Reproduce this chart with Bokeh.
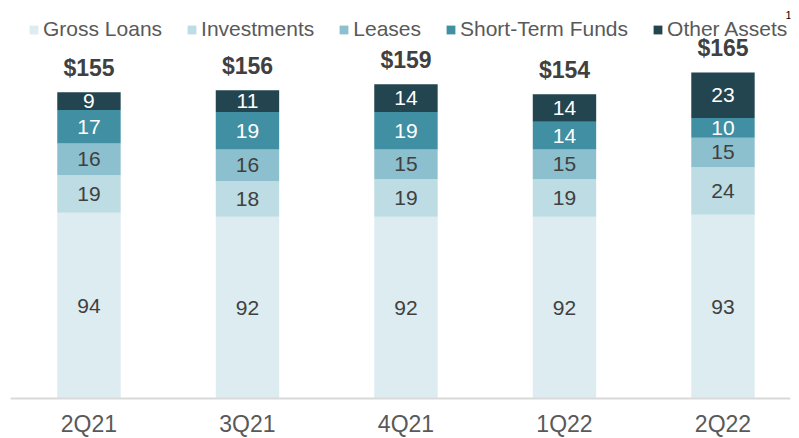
from bokeh.plotting import figure
from bokeh.models import ColumnDataSource, Legend, LegendItem, Label, Span
from bokeh.core.properties import value
from bokeh.embed import file_html
from bokeh.resources import INLINE

quarters = ["2Q21", "3Q21", "4Q21", "1Q22", "2Q22"]
gross_loans = [94, 92, 92, 92, 93]
investments = [19, 18, 19, 19, 24]
leases = [16, 16, 15, 15, 15]
short_term_funds = [17, 19, 19, 14, 10]
other_assets = [9, 11, 14, 14, 23]
totals = [155, 156, 159, 154, 165]

series_names = ["Gross Loans", "Investments", "Leases", "Short-Term Funds", "Other Assets"]
series_keys = ["gl", "inv", "lea", "stf", "oth"]
series_vals = [gross_loans, investments, leases, short_term_funds, other_assets]
colors = ["#DCECF1", "#BDDCE3", "#8CC0CE", "#418FA2", "#22454F"]
label_colors = ["#404040", "#404040", "#404040", "#FFFFFF", "#FFFFFF"]

FONT = "Liberation Sans"
xs = list(range(len(quarters)))

data = {"x": xs, "total": totals, "total_lbl": ["$%d" % t for t in totals],
        "zero": [0] * len(xs), "q": quarters}
for k, v in zip(series_keys, series_vals):
    data[k] = v
source = ColumnDataSource(data)

p = figure(width=799, height=438, output_backend="svg", toolbar_location=None,
           x_range=(-0.495, 4.426), y_range=(-20.24, 201.4),
           min_border_left=10, min_border_right=9, min_border_top=0, min_border_bottom=0)
p.outline_line_color = None
p.xgrid.visible = False
p.ygrid.visible = False
p.xaxis.visible = False
p.yaxis.visible = False
p.background_fill_color = "white"

renderers = p.vbar_stack(series_keys, x="x", width=0.4, source=source, color=colors,
                         line_color=None)

# baseline
p.add_layout(Span(location=0, dimension="width", line_color="#D9D9D9", line_width=2))

# segment labels
bottoms = [0] * len(xs)
for vals, lc in zip(series_vals, label_colors):
    mids = [b + v / 2 for b, v in zip(bottoms, vals)]
    s = ColumnDataSource({"x": xs, "y": mids, "t": [str(v) for v in vals]})
    p.text(x="x", y="y", text="t", source=s, text_align="center", text_baseline="middle",
           text_font=value(FONT), text_font_size="21px", text_color=lc)
    bottoms = [b + v for b, v in zip(bottoms, vals)]

# totals
p.text(x="x", y="total", text="total_lbl", source=source, text_align="center",
       text_baseline="middle", y_offset=-24, text_font=value(FONT), text_font_size="23px",
       text_font_style="bold", text_color="#404040")

# category labels under the baseline
p.text(x="x", y="zero", text="q", source=source, text_align="center",
       text_baseline="middle", y_offset=25.5, text_font=value(FONT),
       text_font_size="23px", text_color="#595959")

legend = Legend(items=[LegendItem(label=n, renderers=[r]) for n, r in zip(series_names, renderers)],
                orientation="horizontal", location=(18, 397), padding=0, margin=0,
                spacing=24, label_standoff=4, glyph_width=11, glyph_height=11,
                label_text_font=FONT, label_text_font_size="21px", label_text_color="#595959",
                border_line_color=None, background_fill_alpha=0)
p.add_layout(legend)

p.add_layout(Label(x=778, y=424, x_units="screen", y_units="screen", text="1",
                   text_align="center", text_baseline="middle",
                   text_font=FONT, text_font_size="11px", text_color="#000000"))

open("out.html", "w").write(file_html(p, INLINE))
